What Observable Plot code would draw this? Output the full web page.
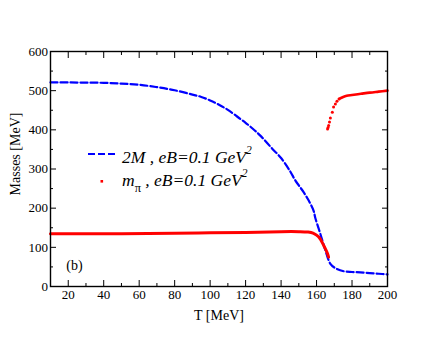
<!DOCTYPE html>
<html>
<head>
<meta charset="utf-8">
<script src="https://cdn.jsdelivr.net/npm/d3@7"></script>
<script src="https://cdn.jsdelivr.net/npm/@observablehq/plot@0.6"></script>
<style>
  html, body { margin: 0; padding: 0; background: white; }
  #chart { position: relative; width: 436px; height: 337px; }
</style>
</head>
<body>
<div id="chart"></div>
<script>
// ---- data ----
const blueT = [10, 20, 30, 40, 50, 60, 70, 80, 90, 95, 100, 105, 110, 117, 120, 125, 129, 135, 140, 145, 148, 150, 152.7, 155.5, 158.3, 159.3, 162.1, 165, 167.8, 170.6, 175.3, 180, 184.7, 190, 195, 200];
const blueM = [521, 521, 520.5, 520, 518, 515, 509, 501, 490, 484, 475, 464, 451, 428, 418, 399, 382, 352, 328, 295, 271, 258, 241, 220, 194, 175, 135, 92, 58, 47, 39, 37, 36, 34, 32.5, 31];

const redLowT = [10, 30, 50, 80, 100, 120, 140, 150, 155, 158, 160, 162, 163, 164, 165, 166, 166.8];
const redLowM = [135, 135, 135, 136, 137, 138, 140, 140, 139, 136.5, 131, 122, 114, 105, 96, 86, 75];

const redJumpT = [166.2, 166.5, 166.8, 167.3, 167.8, 168.9, 169.6, 170.6, 171.5, 172.7];
const redJumpM = [402, 406, 411, 420, 430, 445, 458, 466, 473, 479];

const redUpT = [172.7, 175, 177, 180, 185, 190, 195, 200];
const redUpM = [479, 484, 487, 489, 492, 495, 497.5, 500];

const xMajor = [20, 40, 60, 80, 100, 120, 140, 160, 180, 200];
const xMinor = [10, 30, 50, 70, 90, 110, 130, 150, 170, 190];
const yMajor = [0, 100, 200, 300, 400, 500, 600];
const yMinor = [50, 150, 250, 350, 450, 550];

const zip = (xs, ys) => xs.map((x, i) => ({x, y: ys[i]}));
const blue = zip(blueT, blueM);
const redLow = zip(redLowT, redLowM);
const redJump = zip(redJumpT, redJumpM);
const redUp = zip(redUpT, redUpM);

const none = () => "";
const plot = Plot.plot({
  width: 436,
  height: 337,
  marginLeft: 50,
  marginRight: 49,
  marginTop: 51,
  marginBottom: 51,
  style: {fontFamily: "Liberation Serif", fontSize: "13px", background: "white", color: "black"},
  x: {domain: [10, 200]},
  y: {domain: [0, 600]},
  marks: [
    Plot.axisX({anchor: "bottom", ticks: xMajor, tickSize: -6, tickPadding: 9, label: null, fontSize: 13}),
    Plot.axisX({anchor: "bottom", ticks: xMinor, tickSize: -3, tickFormat: none, label: null}),
    Plot.axisX({anchor: "top", ticks: xMajor, tickSize: -6, tickFormat: none, label: null}),
    Plot.axisX({anchor: "top", ticks: xMinor, tickSize: -3, tickFormat: none, label: null}),
    Plot.axisY({anchor: "left", ticks: yMajor, tickSize: -6, tickPadding: 8.5, label: null, fontSize: 13}),
    Plot.axisY({anchor: "left", ticks: yMinor, tickSize: -3, tickFormat: none, label: null}),
    Plot.axisY({anchor: "right", ticks: yMajor, tickSize: -6, tickFormat: none, label: null}),
    Plot.axisY({anchor: "right", ticks: yMinor, tickSize: -3, tickFormat: none, label: null}),
    Plot.line(blue, {x: "x", y: "y", stroke: "#0000ff", strokeWidth: 2.2, strokeDasharray: "7,3", curve: "catmull-rom"}),
    Plot.line(redLow, {x: "x", y: "y", stroke: "#ff0000", strokeWidth: 3, curve: "catmull-rom"}),
    Plot.dot(redJump, {x: "x", y: "y", r: 1.5, fill: "#ff0000"}),
    Plot.line(redUp, {x: "x", y: "y", stroke: "#ff0000", strokeWidth: 2.6, curve: "catmull-rom"}),
    Plot.text(["(b)"], {x: 23.5, y: 43, text: d => d, fontSize: 14, lineAnchor: "bottom", textAnchor: "middle"}),
    Plot.frame({stroke: "black", strokeWidth: 1.4})
  ]
});
document.getElementById("chart").appendChild(plot);

// axis titles and legend
const svg = d3.select(plot);
svg.append("text").attr("x", 219).attr("y", 320).attr("text-anchor", "middle")
  .attr("font-family", "Liberation Serif").attr("font-size", 14).text("T [MeV]");
svg.append("text").attr("transform", "translate(20,154) rotate(-90)").attr("text-anchor", "middle")
  .attr("font-family", "Liberation Serif").attr("font-size", 14).text("Masses [MeV]");

svg.append("line").attr("x1", 88).attr("x2", 117).attr("y1", 154).attr("y2", 154)
  .attr("stroke", "#0000ff").attr("stroke-width", 2.2).attr("stroke-dasharray", "7,3");
svg.append("rect").attr("x", 100.5).attr("y", 180).attr("width", 2.6).attr("height", 2.6).attr("fill", "#ff0000");

const t1 = svg.append("text").attr("x", 122).attr("y", 163).attr("text-anchor", "start")
  .attr("font-family", "Liberation Serif").attr("font-size", 17.5).attr("font-style", "italic");
t1.append("tspan").text("2M , eB=0.1 GeV");
t1.append("tspan").attr("font-size", 11.5).attr("dy", -9.5).text("2");

const t2 = svg.append("text").attr("x", 122).attr("y", 186).attr("text-anchor", "start")
  .attr("font-family", "Liberation Serif").attr("font-size", 17.5).attr("font-style", "italic");
t2.append("tspan").text("m");
t2.append("tspan").attr("font-size", 12.5).attr("font-style", "normal").attr("dy", 6).text("π");
t2.append("tspan").attr("dy", -6).text(" , eB=0.1 GeV");
t2.append("tspan").attr("font-size", 11.5).attr("dy", -9.5).text("2");
</script>
</body>
</html>
